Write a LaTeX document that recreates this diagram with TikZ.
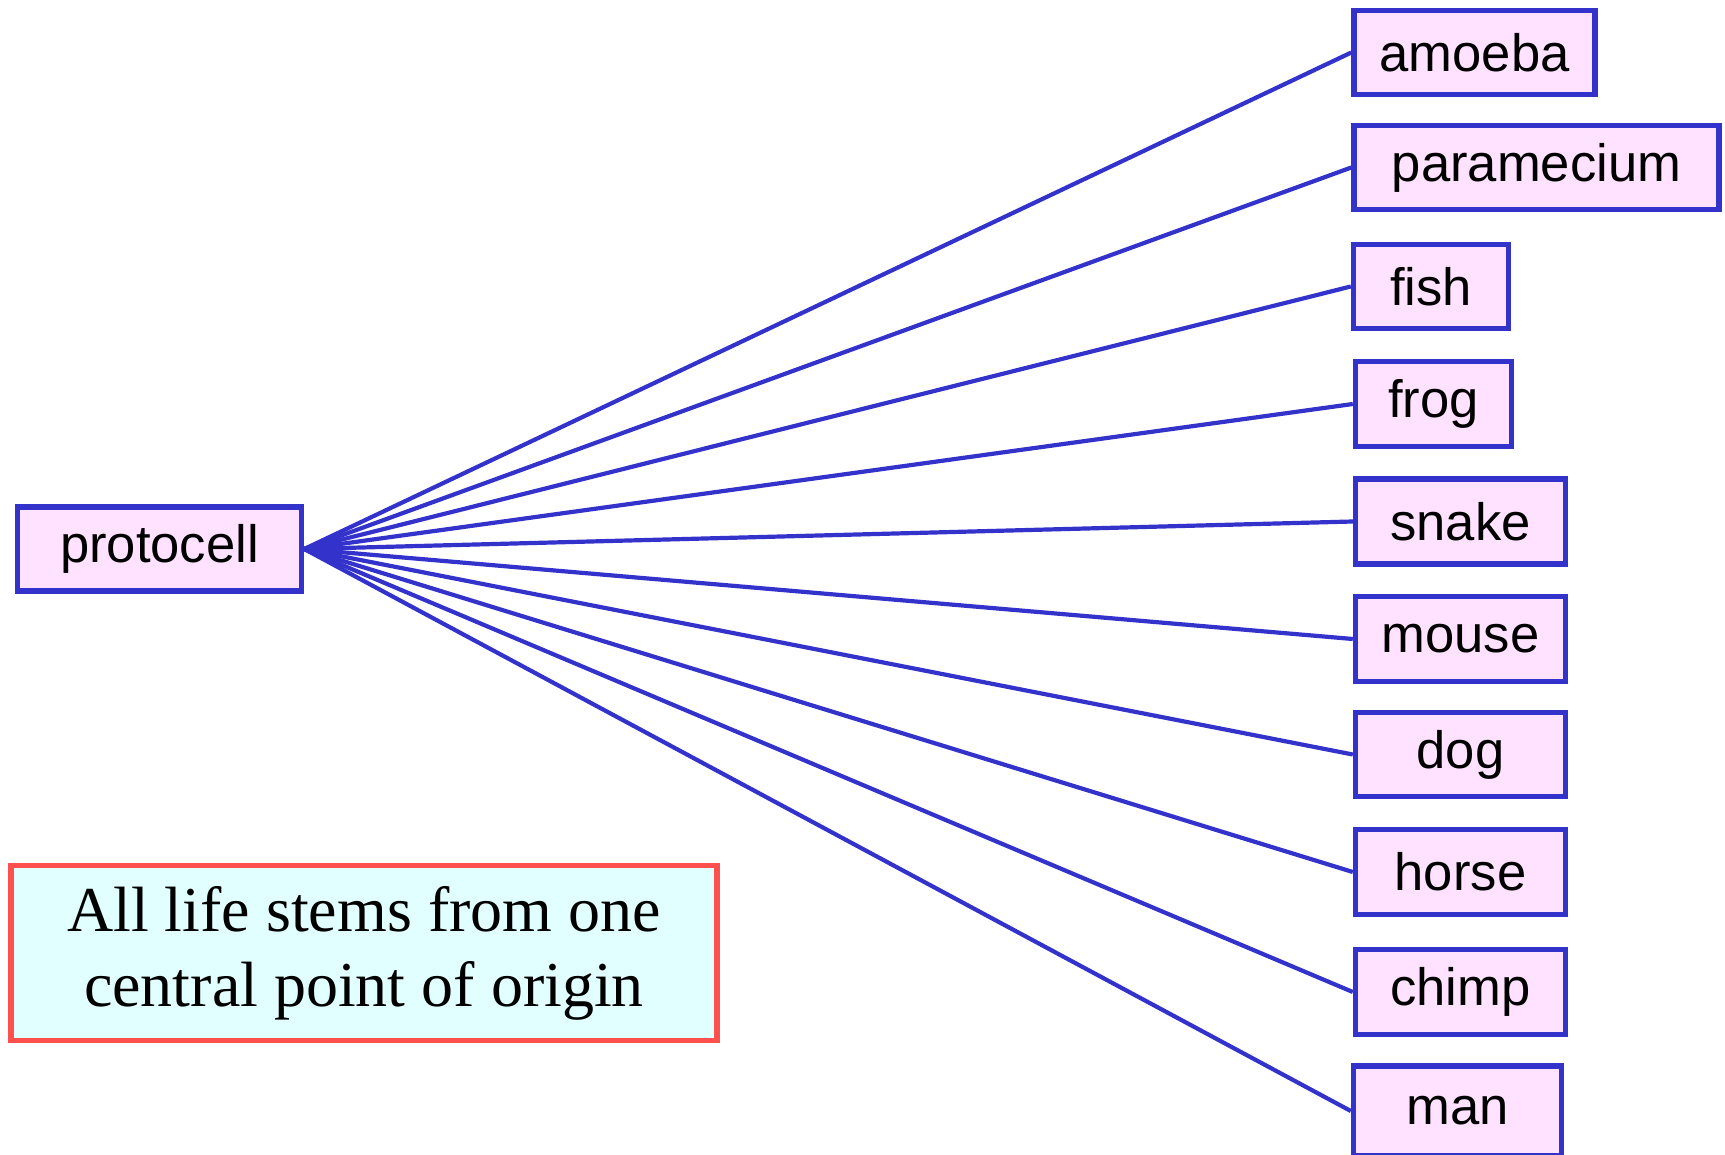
\documentclass[tikz,border=0pt]{standalone}
\usepackage{fontspec}
\setmainfont{Liberation Sans}
\newfontfamily\legendfont{Liberation Serif}
\definecolor{edgeblue}{RGB}{51,51,204}
\definecolor{boxpink}{RGB}{255,226,255}
\definecolor{legcyan}{RGB}{226,255,255}
\definecolor{legred}{RGB}{255,80,80}
\begin{document}
\begin{tikzpicture}[x=0.5pt,y=-0.5pt,
  taxon/.style={draw=edgeblue,fill=boxpink,line width=2.7pt,inner sep=0pt,
    font=\fontsize{26.3}{30}\selectfont,text=black},
  link/.style={draw=edgeblue,line width=2.1pt},
  legend/.style={draw=legred,fill=legcyan,line width=2.7pt,inner sep=0pt,
    align=center,font=\legendfont\fontsize{32}{37.5}\selectfont}]
\useasboundingbox (0,0) rectangle (1725,1155);
\node[taxon,minimum width=142pt,minimum height=42pt] (proto) at (159.5,549) {protocell};
\node[taxon,minimum width=120.5pt,minimum height=42pt] (amoeba) at (1474.5,52.5) {amoeba};
\node[taxon,minimum width=182.5pt,minimum height=42pt] (para) at (1536.5,167.5) {paramecium};
\node[taxon,minimum width=77.5pt,minimum height=42pt] (fish) at (1431,286.5) {fish};
\node[taxon,minimum width=78pt,minimum height=42.5pt] (frog) at (1433.5,404) {frog};
\node[taxon,minimum width=105pt,minimum height=42.5pt] (snake) at (1460.5,521.5) {snake};
\node[taxon,minimum width=105pt,minimum height=42.5pt] (mouse) at (1460.5,639) {mouse};
\node[taxon,minimum width=105pt,minimum height=42pt] (dog) at (1460.5,754.5) {dog};
\node[taxon,minimum width=105pt,minimum height=42.5pt] (horse) at (1460.5,872) {horse};
\node[taxon,minimum width=105pt,minimum height=42.5pt] (chimp) at (1460.5,992) {chimp};
\node[taxon,minimum width=104pt,minimum height=45pt] (man) at (1457.5,1111) {man};
\foreach \t in {amoeba,para,fish,frog,snake,mouse,dog,horse,chimp,man}
  \draw[link] (proto.east) -- (\t.west);
\node[legend,minimum width=353pt,minimum height=87.5pt] (note) at (364,953)
  {All life stems from one\\central point of origin};
\end{tikzpicture}
\end{document}
